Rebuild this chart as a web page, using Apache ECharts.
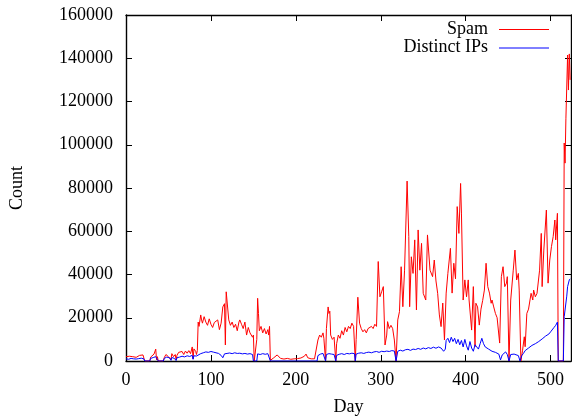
<!DOCTYPE html>
<html>
<head>
<meta charset="utf-8">
<script src="https://cdn.jsdelivr.net/npm/echarts@6/dist/echarts.min.js"></script>
<style>html,body{margin:0;padding:0;background:#fff}#c{width:572px;height:417px}</style>
</head>
<body>
<div id="c"></div>
<script>
// [day, count]
const spamData = [[0,2000],[2,1600],[4,2200],[6,1800],[8,2000],[10,2400],[12,1700],[14,2100],[16,2600],[18,2300],[20,2800],[21,2200],[22,0],[28,0],[29,1800],[31,2400],[33,3200],[35,5500],[36,500],[37,2000],[38,0],[44,0],[45,1500],[47,3000],[48,3800],[50,2000],[52,2600],[53,800],[54,3400],[56,2000],[58,3000],[59,500],[60,2600],[62,4000],[64,3400],[66,4400],[68,3000],[70,4600],[72,3600],[74,4800],[76,3400],[78,6500],[79,1000],[80,5600],[82,4500],[83,3000],[84,4800],[85,18000],[86,16000],[88,21300],[89,19000],[90,17500],[92,20500],[94,18000],[96,16500],[98,19500],[100,17000],[102,15500],[104,17800],[106,17000],[108,19000],[110,14500],[112,17500],[114,25000],[116,26500],[117,7400],[118,32000],[120,31500],[121,19000],[123,16500],[125,18000],[127,15500],[129,17000],[131,14000],[133,18000],[134,19000],[136,17000],[138,15000],[140,18000],[142,12000],[144,15500],[146,13000],[148,12500],[149,11000],[150,12000],[151,0],[153,0],[154,10000],[155,29000],[156,22000],[157,14000],[159,16000],[161,13000],[163,15000],[165,12500],[167,14500],[168,12000],[169,16000],[170,300],[172,500],[174,1500],[176,2000],[178,2800],[180,2600],[182,1200],[184,1500],[186,900],[188,1600],[190,1200],[192,1400],[194,800],[196,1300],[198,1000],[200,1500],[202,1100],[204,700],[206,1400],[208,1000],[210,2200],[212,3200],[214,1500],[216,1200],[218,1000],[220,1300],[222,1000],[224,1200],[226,9700],[228,12000],[230,11000],[232,13000],[233,10500],[235,0],[236,15000],[238,25000],[239,22000],[240,23000],[241,12000],[243,10000],[245,11000],[247,0],[248,8000],[250,12000],[252,10500],[254,14000],[256,12000],[258,15500],[260,13500],[262,16000],[264,15000],[266,17500],[268,16000],[270,0],[271,10000],[273,29500],[275,17500],[277,15000],[279,13500],[281,14500],[283,13000],[285,15000],[287,14500],[289,16000],[291,15000],[293,17000],[295,16000],[297,46000],[299,29700],[301,32000],[303,34400],[305,7400],[307,12000],[308,18200],[310,15000],[312,16500],[314,15000],[316,9700],[318,0],[320,19000],[322,22800],[324,43600],[326,25100],[328,42000],[331,83200],[333,57500],[334,25100],[336,48200],[338,40500],[340,56000],[342,23600],[344,60600],[346,42000],[348,54400],[350,31300],[353,28200],[355,58300],[358,42000],[361,39000],[363,46700],[365,37000],[367,31300],[369,21300],[371,15900],[373,26800],[375,9700],[377,31400],[379,40500],[382,52100],[384,31400],[386,45200],[388,38000],[390,71400],[392,59000],[394,82100],[395,68400],[397,28200],[399,37500],[401,29700],[403,37500],[404,28200],[407,14300],[409,34400],[411,6600],[412,26700],[414,25000],[416,16600],[418,24000],[420,28000],[422,32800],[424,45200],[426,34400],[428,31400],[430,26700],[431,28200],[433,25000],[435,22000],[437,20000],[440,8300],[442,39000],[444,43600],[446,34400],[448,36000],[449,39000],[451,0],[453,28200],[456,42000],[458,51300],[460,37500],[462,40500],[463,32800],[465,0],[467,5000],[469,11200],[470,6600],[472,22000],[474,24000],[477,31300],[479,28200],[480,32800],[482,29700],[484,31300],[487,42000],[489,59000],[490,34400],[492,51300],[495,69800],[497,36000],[499,46700],[501,52900],[503,57500],[505,65200],[506,56000],[508,68300],[509,0],[515,0],[516,100800],[517,91500],[518,112000],[520,141500],[521,125300],[522,142000],[523,130000]];

const ipData = [[0,1000],[3,800],[6,1200],[9,1000],[12,900],[15,1100],[18,1300],[21,1000],[22,0],[28,0],[29,1200],[32,1600],[35,2000],[37,1200],[38,0],[44,0],[45,1200],[48,1800],[51,1500],[53,300],[54,1600],[57,1200],[59,200],[60,1500],[63,1800],[66,2200],[69,1900],[72,2400],[75,2100],[78,2600],[79,800],[80,2400],[83,2300],[85,3000],[88,3400],[91,3800],[94,4200],[97,4000],[100,4400],[103,4100],[106,3800],[109,3500],[112,2600],[114,1500],[116,3300],[119,3500],[122,3700],[125,3400],[128,3800],[131,3500],[134,3600],[137,3300],[140,3500],[143,3200],[146,3400],[149,3000],[150,0],[154,0],[155,3300],[158,3000],[161,3400],[164,3100],[167,3400],[169,3200],[170,0],[225,0],[226,2500],[229,3200],[232,3500],[234,3000],[235,0],[236,3000],[239,3400],[242,3200],[245,3000],[247,0],[248,2600],[251,3100],[254,3400],[257,3000],[260,3500],[263,3300],[266,3600],[269,3400],[270,0],[271,3200],[274,3600],[277,3800],[280,3500],[283,3900],[286,4100],[289,3800],[292,4200],[295,4400],[298,4000],[301,4500],[304,4300],[307,4600],[310,4400],[313,4800],[316,4600],[318,0],[320,4500],[323,5000],[326,4600],[329,5200],[332,5400],[335,4900],[338,5500],[341,5300],[344,5800],[347,5400],[350,6000],[353,5600],[356,6200],[359,5800],[362,6400],[365,5900],[368,6500],[371,6000],[374,4500],[376,5500],[377,9500],[379,10500],[381,8500],[383,11000],[385,9000],[387,10500],[389,8000],[391,10000],[393,7500],[395,9500],[397,6500],[399,10000],[401,7000],[403,5000],[405,9000],[407,6000],[409,4500],[411,7500],[413,6500],[415,5500],[417,8000],[419,10500],[421,8000],[423,6500],[425,7000],[427,5500],[429,5000],[431,4500],[433,4000],[435,4000],[437,3500],[439,3200],[441,500],[443,2800],[445,3500],[447,4200],[449,3000],[451,0],[453,3000],[455,3800],[457,3200],[459,3500],[462,2500],[464,0],[466,2500],[468,3500],[470,4800],[472,5500],[474,6000],[476,6800],[478,7200],[480,7500],[482,8000],[484,8500],[486,9000],[488,9500],[490,10200],[492,10800],[494,11500],[496,12000],[498,12500],[500,13500],[502,14000],[504,15500],[506,16500],[507,17400],[508,18000],[509,0],[515,0],[516,20500],[518,20000],[519,30000],[520,34400],[522,37500],[523,38000]];

const seriesNames = ['Spam', 'Distinct IPs'];
const xTicks = {min: 0, max: 524, step: 100};
const yTicks = {min: 0, max: 160000, step: 20000};

const FONT = 'Liberation Serif';
const chart = echarts.init(document.getElementById('c'), null, {renderer: 'canvas'});
const lineStyleAxis = {show: true, onZero: false, lineStyle: {color: '#000', width: 1.4}};
const tickIn = {show: true, inside: true, length: 6, lineStyle: {color: '#000', width: 1}};
chart.setOption({
  animation: false,
  backgroundColor: '#fff',
  grid: {left: 126, right: 1, top: 15, bottom: 56, containLabel: false, outerBoundsMode: 'none'},
  xAxis: [
    {type: 'value', min: xTicks.min, max: xTicks.max, interval: xTicks.step, position: 'bottom',
     axisLine: lineStyleAxis, axisTick: tickIn, splitLine: {show: false},
     axisLabel: {fontFamily: FONT, fontSize: 18, color: '#000', margin: 10, showMaxLabel: false},
     name: 'Day', nameLocation: 'middle', nameGap: 37,
     nameTextStyle: {fontFamily: FONT, fontSize: 18, color: '#000'}},
    {type: 'value', min: xTicks.min, max: xTicks.max, interval: xTicks.step, position: 'top',
     axisLine: lineStyleAxis, axisTick: tickIn, splitLine: {show: false}, axisLabel: {show: false}}
  ],
  yAxis: [
    {type: 'value', min: yTicks.min, max: yTicks.max, interval: yTicks.step, position: 'left',
     axisLine: lineStyleAxis, axisTick: tickIn, splitLine: {show: false},
     axisLabel: {fontFamily: FONT, fontSize: 18, color: '#000', margin: 13, formatter: v => String(v)},
     name: 'Count', nameLocation: 'middle', nameGap: 100, nameRotate: 90,
     nameTextStyle: {fontFamily: FONT, fontSize: 18, color: '#000'}},
    {type: 'value', min: yTicks.min, max: yTicks.max, interval: yTicks.step, position: 'right',
     axisLine: lineStyleAxis, axisTick: tickIn, splitLine: {show: false}, axisLabel: {show: false}}
  ],
  series: [
    {name: seriesNames[0], type: 'line', data: spamData, showSymbol: false, symbol: 'none',
     lineStyle: {color: '#ff0000', width: 1}, itemStyle: {color: '#ff0000'}, z: 2},
    {name: seriesNames[1], type: 'line', data: ipData, showSymbol: false, symbol: 'none',
     lineStyle: {color: '#0000ff', width: 1}, itemStyle: {color: '#0000ff'}, z: 3}
  ],
  graphic: [
    {type: 'text', right: 572 - 488, top: 20, style: {text: seriesNames[0], font: '18px "Liberation Serif"', fill: '#000'}},
    {type: 'line', shape: {x1: 499, y1: 29.5, x2: 549, y2: 29.5}, style: {stroke: '#ff0000', lineWidth: 1}},
    {type: 'text', right: 572 - 488, top: 38.5, style: {text: seriesNames[1], font: '18px "Liberation Serif"', fill: '#000'}},
    {type: 'line', shape: {x1: 499, y1: 48, x2: 549, y2: 48}, style: {stroke: '#0000ff', lineWidth: 1}}
  ]
});
</script>
</body>
</html>
